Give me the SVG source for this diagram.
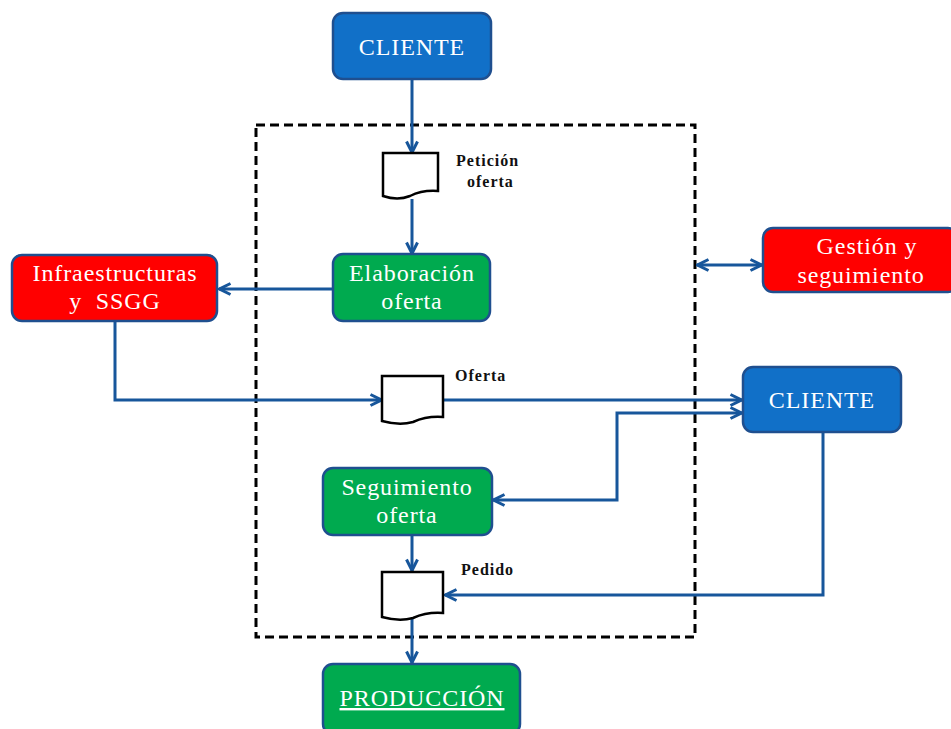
<svg xmlns="http://www.w3.org/2000/svg" width="951" height="729" viewBox="0 0 951 729">
<defs>
<style>
.blue{fill:#1170C8;stroke:#1F4F8F;stroke-width:2.5}
.red{fill:#FF0000;stroke:#1F4F8F;stroke-width:2.5}
.green{fill:#00AA4F;stroke:#1F4F8F;stroke-width:2.5}
.t{font-family:"Liberation Serif","DejaVu Serif",serif;font-size:24px;letter-spacing:0.9px;fill:#fff;text-anchor:middle}
.lbl{font-family:"Liberation Serif","DejaVu Serif",serif;font-size:16px;letter-spacing:1px;font-weight:bold;fill:#111}
.doc{fill:#fff;stroke:#000;stroke-width:2.5}
.c{fill:none;stroke:#17569B;stroke-width:3}
</style>
<marker id="a" viewBox="0 0 14 14" refX="13" refY="7" markerWidth="14" markerHeight="14" markerUnits="userSpaceOnUse" orient="auto-start-reverse">
<path d="M1.5,1.5 L12.5,7 L1.5,12.5" fill="none" stroke="#17569B" stroke-width="3"/>
</marker>
</defs>
<rect x="256" y="125" width="439" height="512" fill="none" stroke="#000" stroke-width="3" stroke-dasharray="9,5"/>
<g id="connectors">
<path class="c" d="M412,80 V153" marker-end="url(#a)"/>
<path class="c" d="M412,199 V254" marker-end="url(#a)"/>
<path class="c" d="M333,289 H219" marker-end="url(#a)"/>
<path class="c" d="M115,321 V400 H382" marker-end="url(#a)"/>
<path class="c" d="M443,400 H742" marker-end="url(#a)"/>
<path class="c" d="M493,500 H617 V413 H742" marker-start="url(#a)" marker-end="url(#a)"/>
<path class="c" d="M697,265 H762" marker-start="url(#a)" marker-end="url(#a)"/>
<path class="c" d="M823,432 V595 H445" marker-end="url(#a)"/>
<path class="c" d="M412,535 V571" marker-end="url(#a)"/>
<path class="c" d="M412,617 V663" marker-end="url(#a)"/>
</g>
<g id="cliente1"><rect class="blue" x="333" y="13" width="158" height="66" rx="10"/><text class="t" x="412" y="55">CLIENTE</text></g>
<g id="doc-peticion"><path class="doc" d="M383,153 H438 V191 C425,190 418,192 410,196 C400,200 392,199 383,196 Z"/><text class="lbl" x="456" y="166">Petición</text><text class="lbl" x="467" y="187">oferta</text></g>
<g id="elaboracion"><rect class="green" x="333" y="254" width="157" height="67" rx="10"/><text class="t" x="412" y="281">Elaboración</text><text class="t" x="412" y="309">oferta</text></g>
<g id="infraestructuras"><rect class="red" x="12" y="255" width="205" height="66" rx="10"/><text class="t" x="115" y="281">Infraestructuras</text><text class="t" x="115" y="309" xml:space="preserve">y  SSGG</text></g>
<g id="gestion"><rect class="red" x="763" y="228" width="195" height="64" rx="10"/><text class="t" x="867" y="254">Gestión y</text><text class="t" x="861" y="283">seguimiento</text></g>
<g id="doc-oferta"><path class="doc" d="M382,376 H443 V417 C430,416 422,418 413,422 C402,425 393,424 382,421 Z"/><text class="lbl" x="455" y="381">Oferta</text></g>
<g id="cliente2"><rect class="blue" x="743" y="367" width="158" height="65" rx="10"/><text class="t" x="822" y="408">CLIENTE</text></g>
<g id="seguimiento"><rect class="green" x="323" y="468" width="169" height="67" rx="10"/><text class="t" x="407" y="495">Seguimiento</text><text class="t" x="407" y="523">oferta</text></g>
<g id="doc-pedido"><path class="doc" d="M382,572 H443 V613 C430,612 422,614 413,618 C402,621 393,620 382,617 Z"/><text class="lbl" x="461" y="575">Pedido</text></g>
<g id="produccion"><rect class="green" x="323" y="664" width="197" height="70" rx="10"/><text class="t" x="422" y="706" text-decoration="underline">PRODUCCIÓN</text></g>
</svg>
